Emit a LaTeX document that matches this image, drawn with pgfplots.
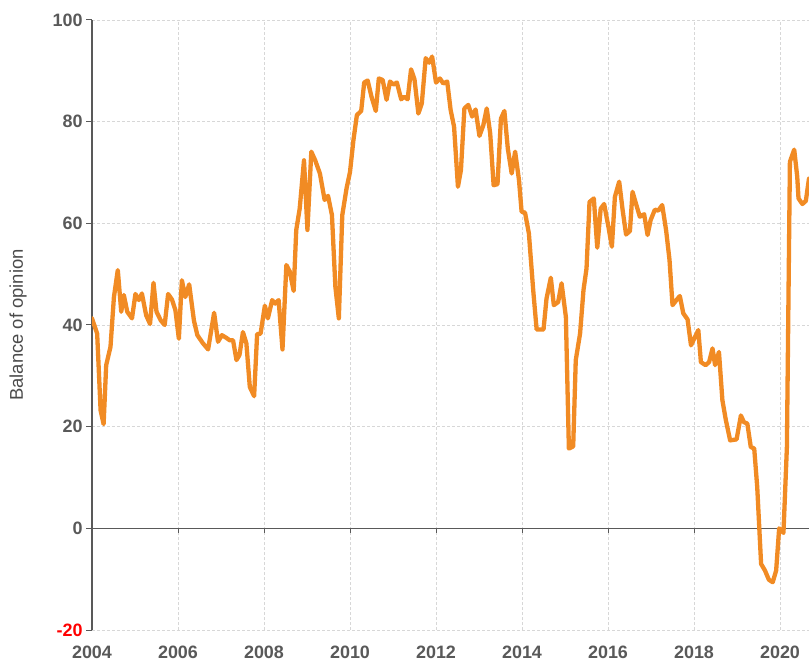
\documentclass[border=0pt]{standalone}
\usepackage{fontspec}
\setmainfont{Liberation Sans}
\usepackage{pgfplots}
\pgfplotsset{compat=1.18}
\definecolor{lineorange}{RGB}{241,139,36}
\definecolor{txtgray}{RGB}{89,89,89}
\definecolor{gridgray}{RGB}{215,215,215}
% x values are years since January 2004
\pgfplotstableread{
x y
0.00 41.3
0.12 38.3
0.20 23.2
0.27 20.5
0.33 32.1
0.43 35.7
0.51 45.5
0.60 50.8
0.68 42.6
0.74 45.9
0.82 42.6
0.93 41.3
1.01 46.1
1.09 44.9
1.16 46.2
1.26 41.9
1.35 40.2
1.43 48.3
1.50 42.6
1.60 40.9
1.69 40.0
1.77 46.1
1.86 45.0
1.94 42.9
2.02 37.3
2.09 48.8
2.17 45.5
2.26 48.0
2.37 40.9
2.45 38.0
2.58 36.4
2.70 35.2
2.84 42.4
2.93 36.7
3.02 38.0
3.12 37.5
3.20 37.0
3.28 37.0
3.36 33.1
3.43 34.1
3.51 38.6
3.59 36.4
3.67 27.8
3.77 26.0
3.84 38.2
3.92 38.3
4.02 43.8
4.09 41.3
4.19 44.9
4.26 44.2
4.34 44.9
4.43 35.2
4.52 51.8
4.60 50.5
4.69 46.7
4.75 58.7
4.83 62.9
4.93 72.4
5.01 58.7
5.10 74.1
5.19 72.4
5.30 69.8
5.41 64.6
5.49 65.4
5.58 61.6
5.66 47.5
5.74 41.3
5.82 61.6
5.92 66.9
6.00 70.1
6.08 76.4
6.16 81.3
6.26 82.1
6.33 87.7
6.41 88.1
6.50 84.9
6.60 82.1
6.67 88.5
6.76 88.2
6.85 84.3
6.93 87.9
7.01 87.3
7.09 87.7
7.19 84.4
7.26 84.9
7.34 84.4
7.42 90.3
7.50 88.3
7.59 81.6
7.67 83.6
7.76 92.5
7.84 91.6
7.91 92.8
8.00 87.7
8.09 88.5
8.17 87.5
8.26 87.9
8.34 82.3
8.42 79.0
8.51 67.2
8.58 70.5
8.66 82.6
8.75 83.3
8.84 81.0
8.92 82.4
9.01 77.2
9.10 79.3
9.18 82.6
9.26 77.7
9.34 67.5
9.43 67.7
9.51 80.6
9.59 82.1
9.67 74.7
9.76 69.8
9.84 74.1
9.93 68.5
9.99 62.3
10.07 62.1
10.16 58.0
10.26 46.9
10.34 39.1
10.42 39.1
10.50 39.1
10.57 45.2
10.67 49.3
10.74 43.9
10.84 44.5
10.92 48.2
11.02 41.6
11.09 15.7
11.19 16.1
11.25 33.1
11.35 38.3
11.43 46.9
11.50 51.1
11.57 64.2
11.67 64.9
11.75 55.2
11.83 62.9
11.91 63.8
12.01 59.3
12.09 55.4
12.16 65.2
12.26 68.2
12.34 62.6
12.42 57.8
12.51 58.5
12.57 66.2
12.67 63.3
12.74 61.3
12.84 61.8
12.92 57.7
12.99 60.6
13.09 62.7
13.17 62.5
13.26 63.6
13.35 58.7
13.43 52.8
13.50 43.9
13.60 45.0
13.67 45.7
13.75 42.3
13.85 41.1
13.93 36.0
14.10 39.0
14.16 32.7
14.27 32.1
14.35 32.7
14.43 35.4
14.49 32.1
14.58 34.7
14.66 25.2
14.74 21.3
14.84 17.3
14.99 17.5
15.09 22.2
15.16 20.9
15.24 20.6
15.32 16.0
15.40 15.7
15.47 8.1
15.56 -7.0
15.65 -8.3
15.74 -10.1
15.83 -10.6
15.91 -8.3
15.98 0.0
16.08 -0.9
16.16 16.0
16.23 72.1
16.33 74.5
16.40 69.2
16.43 64.9
16.52 63.8
16.60 64.4
16.674 68.8
}\balance
\begin{document}
\begin{tikzpicture}
\useasboundingbox (-92bp,-31bp) rectangle (717bp,630bp);
\begin{axis}[
  scale only axis, width=717bp, height=610bp,
  at={(0,0)}, anchor=south west,
  xmin=0, xmax=16.674, ymin=-20, ymax=100,
  axis y line*=left, axis x line*=bottom,
  x axis line style={draw=none},
  y axis line style={txtgray, line width=1.2bp},
  grid=major,
  major grid style={gridgray, dash pattern=on 3bp off 2bp, line width=0.8bp},
  ytick={-20,0,20,40,60,80,100},
  yticklabels={{\color{red}-20},0,20,40,60,80,100},
  xtick={0,2,4,6,8,10,12,14,16},
  xticklabels={2004,2006,2008,2010,2012,2014,2016,2018,2020},
  tick label style={font=\fontsize{18}{20}\selectfont\bfseries, text=txtgray},
  xticklabel style={yshift=-6bp},
  tick align=outside, major tick length=6bp,
  y tick style={txtgray, line width=1bp},
  x tick style={draw=none},
  ylabel={Balance of opinion},
  every axis y label/.style={at={(axis description cs:-0.103,0.5)}, rotate=90, anchor=center, font=\fontsize{18.5}{20}\selectfont, text={rgb,255:red,75;green,75;blue,75}},
]
\draw[txtgray, line width=1.2bp] (axis cs:0,0) -- (axis cs:16.674,0);
\draw[txtgray, line width=1bp] (axis cs:2,0) -- (axis cs:2,-1);
\draw[txtgray, line width=1bp] (axis cs:4,0) -- (axis cs:4,-1);
\draw[txtgray, line width=1bp] (axis cs:6,0) -- (axis cs:6,-1);
\draw[txtgray, line width=1bp] (axis cs:8,0) -- (axis cs:8,-1);
\draw[txtgray, line width=1bp] (axis cs:10,0) -- (axis cs:10,-1);
\draw[txtgray, line width=1bp] (axis cs:12,0) -- (axis cs:12,-1);
\draw[txtgray, line width=1bp] (axis cs:14,0) -- (axis cs:14,-1);
\draw[txtgray, line width=1bp] (axis cs:16,0) -- (axis cs:16,-1);
\addplot[lineorange, line width=4.3bp, line join=round, line cap=round] table {\balance};
\end{axis}
\end{tikzpicture}
\end{document}
